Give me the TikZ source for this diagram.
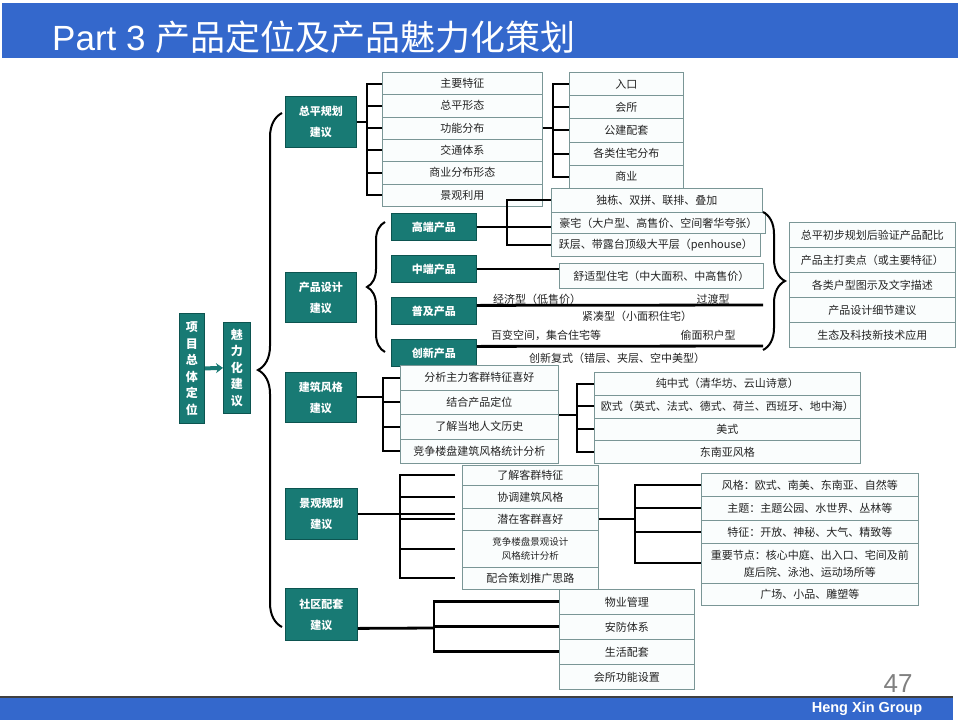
\documentclass[tikz,border=0pt]{standalone}
\usepackage{fontspec}
\setmainfont{Liberation Sans}
\newfontfamily\cjk{Noto Sans CJK SC}
\usetikzlibrary{arrows.meta,calc,decorations.pathreplacing}
\definecolor{BarClr}{RGB}{52,104,204}
\definecolor{TealClr}{RGB}{24,122,116}
\definecolor{TealLine}{RGB}{12,84,80}
\definecolor{BoxLine}{RGB}{122,150,150}
\definecolor{BoxFill}{RGB}{250,253,253}
\definecolor{TextClr}{RGB}{35,35,35}
\tikzset{
  tealbox/.style={draw=TealLine, fill=TealClr, line width=0.8pt, text=white, anchor=north west,
    inner sep=0pt, align=center, font=\cjk\bfseries\fontsize{11}{21}\selectfont},
  itembox/.style={draw=BoxLine, fill=BoxFill, line width=0.7pt, text=TextClr, anchor=north west,
    inner sep=0pt, align=center, font=\cjk\fontsize{11}{13}\selectfont},
  conn/.style={line width=2pt, black},
  heavy/.style={line width=2.8pt, black},
  bracebar/.style={line width=2pt, black, decorate, decoration={brace, amplitude=#1}},
  plain/.style={text=TextClr, inner sep=0pt, font=\cjk\fontsize{11}{13}\selectfont},
}

\begin{document}
\begin{tikzpicture}[x=1pt, y=-1pt]
\useasboundingbox (0,0) rectangle (960,720);

% title and footer
\fill[BarClr] (2,3) rectangle (958,58);
\node[anchor=base west, text=white, inner sep=0pt, font=\fontsize{35}{40}\selectfont] (title) at (52,50)
  {Part 3 {\cjk 产品定位及产品魅力化策划}};
\fill[BarClr] (0,697) rectangle (953,720);
\draw[line width=1.2pt, black!75] (0,697) -- (953,697);
\node[text=white, inner sep=0pt, font=\bfseries\fontsize{14.5}{16}\selectfont] (group) at (867,709) {Heng Xin Group};
\node[text=gray, inner sep=0pt, font=\fontsize{26}{28}\selectfont] (page) at (898,684) {47};

% root
\node[tealbox, minimum width=25pt, minimum height=110pt, font=\cjk\bfseries\fontsize{12}{16.5}\selectfont]
  (root) at (179,313) {项\\目\\总\\体\\定\\位};
\node[tealbox, minimum width=27pt, minimum height=91pt, font=\cjk\bfseries\fontsize{12}{16.5}\selectfont]
  (charm) at (223,322) {魅\\力\\化\\建\\议};
\draw[line width=4pt, TealClr, -{Stealth[length=7pt, width=10pt]}] (root.east) -- (charm.west);
\draw[bracebar=24pt] (282,627) -- (282,113);

% 总平规划
\node[tealbox, minimum width=71pt, minimum height=51pt] (zp) at (285,96) {总平规划\\建议};
\foreach \txt [count=\i] in {主要特征,总平形态,功能分布,交通体系,商业分布形态,景观利用}
  \node[itembox, minimum width=160pt, minimum height=22.3pt] (zpa\i) at (382,{72+(\i-1)*22.3}) {\txt};
\coordinate (zpj) at ([xshift=-15pt]zpa1.west);
\draw[conn] (zp.east) -- (zp.east -| zpj);
\draw[conn] (zpa1.west) -- (zpj) -- (zpj |- zpa6.west) -- (zpa6.west);
\foreach \i in {2,...,5} \draw[conn] (zpa\i.west) -- (zpa\i.west -| zpj);

\foreach \txt [count=\i] in {入口,会所,公建配套,各类住宅分布,商业}
  \node[itembox, minimum width=114pt, minimum height=23.2pt] (zpb\i) at (569,{72+(\i-1)*23.2}) {\txt};
\coordinate (zpk) at ([xshift=-16pt]zpb1.west);
\draw[conn] (zpa3.east) -- (zpa3.east -| zpk);
\draw[conn] (zpb1.west) -- (zpk) -- (zpk |- zpb5.west) -- (zpb5.west);
\foreach \i in {2,...,4} \draw[conn] (zpb\i.west) -- (zpb\i.west -| zpk);

% 产品设计
\node[tealbox, minimum width=71pt, minimum height=50pt] (cp) at (285,272) {产品设计\\建议};
\draw[bracebar=18pt] (385,352) -- (385,222);
\node[tealbox, minimum width=85pt, minimum height=27pt] (gd) at (391,213) {高端产品};
\node[tealbox, minimum width=85pt, minimum height=27pt] (zd) at (391,255) {中端产品};
\node[tealbox, minimum width=85pt, minimum height=27pt] (pj) at (391,297) {普及产品};
\node[tealbox, minimum width=85pt, minimum height=27pt] (cx) at (391,339) {创新产品};

\node[itembox, minimum width=211pt, minimum height=24pt] (dd) at (551,188) {独栋、双拼、联排、叠加};
\node[itembox, minimum width=214pt, minimum height=21pt] (hz) at (551,212) {豪宅（大户型、高售价、空间奢华夸张）};
\node[itembox, minimum width=209pt, minimum height=23pt] (yc) at (551,233) {跃层、带露台顶级大平层（penhouse）};
\coordinate (gdj) at (507,200);
\draw[conn] (gd.east) -- (gd.east -| hz.west);
\draw[conn] (dd.west) -- (dd.west -| gdj) -- (gdj |- yc.west) -- (yc.west);

\node[itembox, minimum width=204pt, minimum height=25pt] (sh) at (559,263) {舒适型住宅（中大面积、中高售价）};
\draw[conn] (zd.east) -- (zd.east -| sh.west);

\node[plain] (jj) at (537,299) {经济型（低售价）};
\node[plain] (gdx) at (713,299) {过渡型};
\node[plain] (jc) at (637,316) {紧凑型（小面积住宅）};
\node[plain] (bb) at (546,335) {百变空间，集合住宅等};
\node[plain] (tm) at (708,335) {偷面积户型};
\node[plain] (cf) at (617,358) {创新复式（错层、夹层、空中美型）};
\coordinate (pje) at (763,305);
\coordinate (cxe) at (763,346);
\draw[heavy] ([yshift=5.5pt]pj.east) -- (pje);
\draw[heavy] ([yshift=6.5pt]cx.east) -- (cxe);

\draw[bracebar=22pt] (763,212) -- (763,350);
\foreach \txt [count=\i] in {总平初步规划后验证产品配比,产品主打卖点（或主要特征）,各类户型图示及文字描述,产品设计细节建议,生态及科技新技术应用}
  \node[itembox, minimum width=166pt, minimum height=25pt] (cpa\i) at (789,{222+(\i-1)*25}) {\txt};

% 建筑风格
\node[tealbox, minimum width=71pt, minimum height=50pt] (jz) at (285,372) {建筑风格\\建议};
\foreach \txt [count=\i] in {分析主力客群特征喜好,结合产品定位,了解当地人文历史,竞争楼盘建筑风格统计分析}
  \node[itembox, minimum width=158pt, minimum height=24.5pt] (jza\i) at (400,{365+(\i-1)*24.5}) {\txt};
\coordinate (jzj) at ([xshift=-17pt]jza1.west);
\draw[conn] (jz.east) -- (jz.east -| jzj);
\draw[conn] (jza1.west) -- (jzj) -- (jzj |- jza4.west) -- (jza4.west);
\foreach \i in {2,3} \draw[conn] (jza\i.west) -- (jza\i.west -| jzj);

\foreach \txt [count=\i] in {纯中式（清华坊、云山诗意）,欧式（英式、法式、德式、荷兰、西班牙、地中海）,美式,东南亚风格}
  \node[itembox, minimum width=266pt, minimum height=22.75pt] (jzb\i) at (594,{372+(\i-1)*22.75}) {\txt};
\coordinate (jzk) at ([xshift=-17pt]jzb1.west);
\draw[conn] (jza2.south east) -- (jza2.south east -| jzk);
\draw[conn] (jzb1.west) -- (jzk) -- (jzk |- jzb4.west) -- (jzb4.west);
\foreach \i in {2,3} \draw[conn] (jzb\i.west) -- (jzb\i.west -| jzk);

% 景观规划
\node[tealbox, minimum width=72pt, minimum height=51pt] (jg) at (285,488) {景观规划\\建议};
\node[itembox, minimum width=136pt, minimum height=20pt] (jga1) at (462,465) {了解客群特征};
\node[itembox, minimum width=136pt, minimum height=23pt] (jga2) at (462,485) {协调建筑风格};
\node[itembox, minimum width=136pt, minimum height=22pt] (jga3) at (462,508) {潜在客群喜好};
\node[itembox, minimum width=136pt, minimum height=37pt, font=\cjk\fontsize{9.5}{14}\selectfont]
  (jga4) at (462,530) {竞争楼盘景观设计\\风格统计分析};
\node[itembox, minimum width=136pt, minimum height=22pt] (jga5) at (462,567) {配合策划推广思路};
\coordinate (jgj) at ([xshift=-62pt]jga1.west);
\draw[conn] (jg.east) -- ([xshift=-7pt]jg.east -| jga1.west);
\draw[conn] ([xshift=-7pt]jga1.west) -- (jga1.west -| jgj) -- (jgj |- jga5.west) -- ([xshift=-7pt]jga5.west);
\foreach \i in {2,...,4} \draw[conn, shorten >=7pt] (jga\i.west -| jgj) -- (jga\i.west);

\node[itembox, minimum width=217pt, minimum height=23pt] (jgb1) at (701,473) {风格：欧式、南美、东南亚、自然等};
\node[itembox, minimum width=217pt, minimum height=24pt] (jgb2) at (701,496) {主题：主题公园、水世界、丛林等};
\node[itembox, minimum width=217pt, minimum height=23pt] (jgb3) at (701,520) {特征：开放、神秘、大气、精致等};
\node[itembox, minimum width=217pt, minimum height=40pt, font=\cjk\fontsize{11}{17}\selectfont]
  (jgb4) at (701,543) {重要节点：核心中庭、出入口、宅间及前\\庭后院、泳池、运动场所等};
\node[itembox, minimum width=217pt, minimum height=22pt] (jgb5) at (701,583) {广场、小品、雕塑等};
\coordinate (jgk) at ([xshift=-66pt]jgb1.west);
\draw[conn] (jga3.east) -- (jga3.east -| jgk);
\draw[conn] (jgb1.west) -- (jgb1.west -| jgk) -- (jgk |- jgb4.west) -- (jgb4.west);
\foreach \i in {2,3} \draw[conn] (jgb\i.west) -- (jgb\i.west -| jgk);

% 社区配套
\node[tealbox, minimum width=72pt, minimum height=52pt] (sq) at (285,588) {社区配套\\建议};
\foreach \txt [count=\i] in {物业管理,安防体系,生活配套,会所功能设置}
  \node[itembox, minimum width=135pt, minimum height=25pt] (sqa\i) at (559,{589+(\i-1)*25}) {\txt};
\coordinate (sqj) at (434,628);
\draw[heavy] ([yshift=-14pt]sq.east) -- (sqj);
\draw[heavy] (sqa1.west) -- (sqa1.west -| sqj) -- (sqj |- sqa3.west) -- (sqa3.west);
\draw[heavy] (sqa2.west) -- (sqa2.west -| sqj);

\end{tikzpicture}
\end{document}
